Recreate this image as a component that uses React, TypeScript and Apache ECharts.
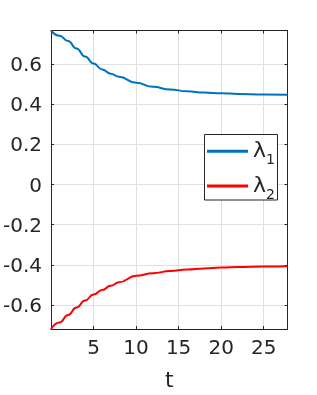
import React, { useEffect, useRef } from 'react';
import * as echarts from 'echarts';

const tValues = [0, 1, 2, 3, 4, 5, 6, 7, 8, 10, 12, 14, 16, 18, 20, 22, 25, 27.8];
const lambda1 = [0.768, 0.742, 0.716, 0.678, 0.638, 0.603, 0.574, 0.553, 0.537, 0.507, 0.487, 0.474, 0.465, 0.459, 0.455, 0.452, 0.449, 0.448];
const lambda2 = [-0.72, -0.688, -0.65, -0.613, -0.578, -0.548, -0.526, -0.505, -0.487, -0.455, -0.442, -0.431, -0.423, -0.418, -0.414, -0.411, -0.409, -0.407];
const xTicks = [5, 10, 15, 20, 25];
const yTicks = [-0.6, -0.4, -0.2, 0, 0.2, 0.4, 0.6];
const seriesNames = ['λ1', 'λ2'];

const FONT = 'DejaVu Sans';
const DARK = '#262626';

export default function App() {
  const ref = useRef<HTMLDivElement>(null);
  useEffect(() => {
    const chart = echarts.init(ref.current!, null, { renderer: 'svg' });
    const xBase = {
      type: 'value' as const,
      min: 0,
      max: 27.8,
      axisLine: { show: true, onZero: false, lineStyle: { color: DARK, width: 1 } },
      axisTick: { show: true, inside: true, length: 3, customValues: xTicks, lineStyle: { color: DARK } },
    };
    const yBase = {
      type: 'value' as const,
      min: -0.72,
      max: 0.768,
      axisLine: { show: true, onZero: false, lineStyle: { color: DARK, width: 1 } },
      axisTick: { show: true, inside: true, length: 3, customValues: yTicks, lineStyle: { color: DARK } },
    };
    chart.setOption({
      animation: false,
      grid: { left: 48.5, right: 29.5, top: 30.5, bottom: 62.5, containLabel: false },
      graphic: [
        {
          type: 'rect',
          z: 10,
          shape: { x: 204.5, y: 134.5, width: 73, height: 65.5 },
          style: { fill: '#ffffff', stroke: DARK, lineWidth: 1 },
        },
      ],
      xAxis: [
        {
          ...xBase,
          position: 'bottom',
          name: 't',
          nameLocation: 'middle',
          nameGap: 39,
          nameTextStyle: { fontFamily: FONT, fontSize: 22, color: DARK },
          axisLabel: { show: true, customValues: xTicks, margin: 8, fontFamily: FONT, fontSize: 20, color: DARK },
          splitLine: { show: true, lineStyle: { color: '#dfdfdf', width: 1 } },
        },
        {
          ...xBase,
          position: 'top',
          axisLabel: { show: false },
          splitLine: { show: false },
        },
      ],
      yAxis: [
        {
          ...yBase,
          position: 'left',
          axisLabel: { show: true, customValues: yTicks, margin: 9, fontFamily: FONT, fontSize: 20, color: DARK },
          splitLine: { show: true, lineStyle: { color: '#dfdfdf', width: 1 } },
        },
        {
          ...yBase,
          position: 'right',
          axisLabel: { show: false },
          splitLine: { show: false },
        },
      ],
      legend: {
        data: seriesNames,
        z: 11,
        orient: 'vertical',
        left: 204,
        top: 132.3,
        padding: [4, 3, 0, 3],
        itemGap: 4.6,
        itemWidth: 41,
        itemHeight: 3,
        icon: 'rect',
        borderWidth: 0,
        backgroundColor: 'transparent',
        formatter: (name: string) => `{a|λ}{b|${name.slice(1)}}`,
        textStyle: {
          color: DARK,
          fontFamily: FONT,
          rich: {
            a: { fontFamily: FONT, fontSize: 22, color: DARK, lineHeight: 23, padding: [0, 0, 3, 0] },
            b: { fontFamily: FONT, fontSize: 14, color: DARK, lineHeight: 10, padding: [16, 0, 0, 0] },
          },
        },
      },
      series: [
        {
          name: seriesNames[0],
          type: 'line',
          data: tValues.map((t, i) => [t, lambda1[i]]),
          showSymbol: false,
          symbol: 'none',
          smooth: true,
          smoothMonotone: 'x',
          lineStyle: { color: '#0072BD', width: 2 },
          itemStyle: { color: '#0072BD' },
        },
        {
          name: seriesNames[1],
          type: 'line',
          data: tValues.map((t, i) => [t, lambda2[i]]),
          showSymbol: false,
          symbol: 'none',
          smooth: true,
          smoothMonotone: 'x',
          lineStyle: { color: '#FF0000', width: 2 },
          itemStyle: { color: '#FF0000' },
        },
      ],
    });
    return () => chart.dispose();
  }, []);
  return <div ref={ref} style={{ position: 'fixed', left: 0, top: 0, width: 317, height: 395 }} />;
}
